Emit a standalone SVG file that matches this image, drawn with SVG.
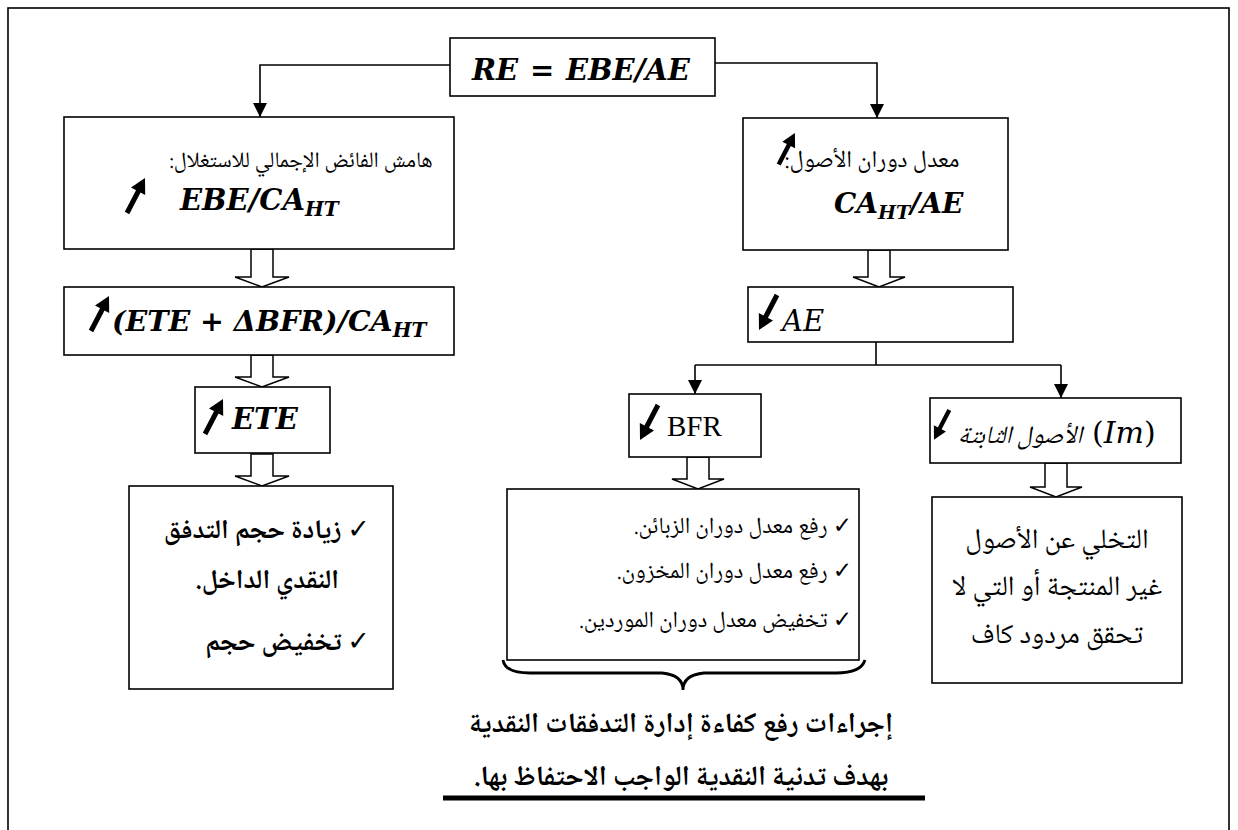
<svg xmlns="http://www.w3.org/2000/svg" xmlns:xlink="http://www.w3.org/1999/xlink" width="1238" height="830" viewBox="0 0 1238 830">
<style>
.box{fill:#fff;stroke:#000;stroke-width:1.6}
.con{fill:none;stroke:#000;stroke-width:1.6}
.hol{fill:#fff;stroke:#000;stroke-width:1.5;stroke-linejoin:miter}
.math{font-family:"DejaVu Serif","Liberation Serif",serif;font-style:italic;font-weight:bold;fill:#000}
.ar{font-family:"Noto Naskh Arabic","Noto Sans Arabic","DejaVu Sans",sans-serif;fill:#000}
.arb{font-family:"Noto Naskh Arabic","Noto Sans Arabic","DejaVu Sans",sans-serif;font-weight:bold;fill:#000}
.ck{font-family:"DejaVu Sans",sans-serif;font-weight:bold}
</style>
<defs>
<marker id="ah" markerWidth="16" markerHeight="16" refX="14" refY="7" orient="auto" markerUnits="userSpaceOnUse"><path d="M0,0 L14,7 L0,14 Z" fill="#000"/></marker>
<g id="up"><path d="M3,35 L15,12" stroke="#000" stroke-width="5" fill="none"/><path d="M21,0 L21.2,17 L7,9.6 Z" fill="#000"/></g>
</defs>
<rect x="8" y="8" width="1221" height="900" fill="none" stroke="#000" stroke-width="1.6"/>

<g id="connectors">
<path class="con" d="M450,65 H260 V117" marker-end="url(#ah)"/>
<path class="con" d="M715,63 H877 V118" marker-end="url(#ah)"/>
<path class="con" d="M876,342 V365 M695,365 H1061"/>
<path class="con" d="M695,365 V394" marker-end="url(#ah)"/>
<path class="con" d="M1061,365 V398" marker-end="url(#ah)"/>
<path class="hol" d="M251,249 H273 V277 H289 L262,287 L235,277 H251 Z"/>
<path class="hol" d="M251,355 H273 V377 H289 L262,387 L235,377 H251 Z"/>
<path class="hol" d="M251,454 H273 V476 H289 L262,486 L235,476 H251 Z"/>
<path class="hol" d="M868,250 H890 V277 H905 L879,287 L853,277 H868 Z"/>
<path class="hol" d="M687,457 H709 V479 H724 L698,489 L672,479 H687 Z"/>
<path class="hol" d="M1045,463 H1067 V487 H1082 L1056,497 L1030,487 H1045 Z"/>
<path d="M503,660 Q505,673 530,673 L662,673 Q683,675 683,690 Q683,675 704,673 L836,673 Q861,673 865,660" fill="none" stroke="#000" stroke-width="2.8"/>
</g>

<g id="n-top">
<rect class="box" x="450" y="38" width="265" height="58"/>
<text class="math" y="80" font-size="29"><tspan x="472">RE</tspan><tspan x="530">=</tspan><tspan x="566">EBE/AE</tspan></text>
</g>

<g id="n-left1">
<rect class="box" x="64" y="117" width="390" height="132"/>
<text class="ar" x="301" y="167" font-size="22" text-anchor="middle" direction="rtl">هامش الفائض الإجمالي للاستغلال:</text>
<use xlink:href="#up" transform="translate(124,178)"/>
<text class="math" x="180" y="210" font-size="29">EBE/CA<tspan font-size="20" dy="6">HT</tspan></text>
</g>

<g id="n-right1">
<rect class="box" x="743" y="118" width="265" height="132"/>
<text class="ar" x="872" y="167" font-size="24" text-anchor="middle" direction="rtl">معدل دوران الأصول:</text>
<use xlink:href="#up" transform="translate(776,133) scale(0.9)"/>
<text class="math" x="834" y="213" font-size="28">CA<tspan font-size="19" dy="6">HT</tspan><tspan dy="-6">/AE</tspan></text>
</g>

<g id="n-left2">
<rect class="box" x="64" y="287" width="390" height="68"/>
<use xlink:href="#up" transform="translate(88,296)"/>
<text class="math" x="112" y="331" font-size="28.5">(ETE + ΔBFR)/CA<tspan font-size="20" dy="6">HT</tspan></text>
</g>

<g id="n-ete">
<rect class="box" x="195" y="387" width="135" height="66"/>
<use xlink:href="#up" transform="translate(202,399)"/>
<text class="math" x="232" y="429" font-size="29">ETE</text>
</g>

<g id="n-left3">
<rect class="box" x="129" y="486" width="264" height="203"/>
<text class="arb" x="370" y="538" font-size="27" direction="rtl" text-anchor="start">✓ زيادة حجم التدفق</text>
<text class="arb" x="267" y="588" font-size="27" direction="rtl" text-anchor="middle">النقدي الداخل.</text>
<text class="arb" x="370" y="650" font-size="27" direction="rtl" text-anchor="start">✓  تخفيض حجم</text>
</g>

<g id="n-ae">
<rect class="box" x="748" y="287" width="265" height="55"/>
<use xlink:href="#up" transform="translate(759,295) rotate(180 10.5 17.5)"/>
<text x="782" y="331" font-size="29" font-family="DejaVu Serif,serif" font-style="italic">AE</text>
</g>

<g id="n-bfr">
<rect class="box" x="629" y="394" width="132" height="63"/>
<use xlink:href="#up" transform="translate(640,405) rotate(180 10.5 17.5)"/>
<text x="667" y="436" font-size="29" font-family="Liberation Serif,serif">BFR</text>
</g>

<g id="n-im">
<rect class="box" x="930" y="398" width="251" height="65"/>
<use xlink:href="#up" transform="translate(934,410) scale(0.85) rotate(180 10.5 17.5)"/>
<text class="ar" x="1020" y="443" font-size="25" font-style="italic" text-anchor="middle" direction="rtl">الأصول الثابتة</text>
<text x="1092" y="443" font-size="30" font-family="DejaVu Serif,serif">(<tspan font-style="italic">Im</tspan>)</text>
</g>

<g id="n-mid">
<rect class="box" x="507" y="489" width="352" height="171"/>
<text class="ar" x="852" y="533" font-size="23" direction="rtl" text-anchor="start"><tspan class="ck">✓</tspan> رفع معدل دوران الزبائن.</text>
<text class="ar" x="852" y="578" font-size="23" direction="rtl" text-anchor="start"><tspan class="ck">✓</tspan> رفع معدل دوران المخزون.</text>
<text class="ar" x="852" y="627" font-size="23" direction="rtl" text-anchor="start"><tspan class="ck">✓</tspan> تخفيض معدل دوران الموردين.</text>
</g>

<g id="n-right3">
<rect class="box" x="932" y="497" width="250" height="186"/>
<text class="ar" x="1057" y="548" font-size="28" text-anchor="middle" direction="rtl">التخلي عن الأصول</text>
<text class="ar" x="1057" y="595" font-size="28" text-anchor="middle" direction="rtl">غير المنتجة أو التي لا</text>
<text class="ar" x="1057" y="643" font-size="28" text-anchor="middle" direction="rtl">تحقق مردود كاف</text>
</g>

<g id="n-caption">
<text class="arb" x="681" y="732" font-size="28" text-anchor="middle" direction="rtl">إجراءات رفع كفاءة إدارة التدفقات النقدية</text>
<text class="arb" x="681" y="785" font-size="28" text-anchor="middle" direction="rtl">بهدف تدنية النقدية الواجب الاحتفاظ بها.</text>
<line x1="443" y1="798" x2="925" y2="798" stroke="#000" stroke-width="5"/>
</g>
</svg>
